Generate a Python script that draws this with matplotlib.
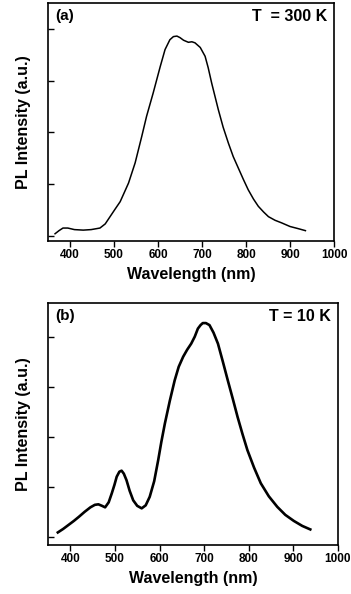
import matplotlib
matplotlib.use("Agg")
import matplotlib.pyplot as plt

plt.rcParams['font.family'] = ['Liberation Sans', 'DejaVu Sans']
plt.rcParams['font.weight'] = 'bold'

# panel (a), T = 300 K
wl_a = [366, 375, 384, 395, 410, 430, 448, 468, 480, 491, 502, 514, 523, 533, 548, 563,
        574, 589, 605, 616, 627, 635, 643, 650, 658, 669, 677, 684, 696, 707, 714, 722,
        737, 748, 760, 771, 783, 794, 805, 817, 828, 840, 851, 866, 881, 900, 918, 935]
int_a = [0.04, 0.10, 0.15, 0.15, 0.12, 0.11, 0.12, 0.15, 0.23, 0.37, 0.51, 0.66, 0.83, 1.02,
         1.41, 1.92, 2.31, 2.76, 3.27, 3.60, 3.79, 3.85, 3.86, 3.83, 3.78, 3.74, 3.75, 3.73,
         3.64, 3.47, 3.25, 2.95, 2.44, 2.10, 1.79, 1.53, 1.30, 1.09, 0.89, 0.71, 0.57, 0.46,
         0.37, 0.30, 0.25, 0.18, 0.14, 0.10]

# panel (b), T = 10 K
wl_b = [372, 384, 396, 408, 419, 432, 445, 455, 463, 471, 478, 486, 493, 499, 504, 510,
        515, 520, 526, 533, 541, 550, 560, 569, 578, 588, 597, 604, 612, 623, 634, 643,
        653, 662, 671, 679, 686, 692, 697, 704, 712, 721, 731, 742, 753, 764, 775, 786,
        797, 812, 827, 845, 864, 882, 901, 920, 938]
int_b = [0.10, 0.17, 0.25, 0.33, 0.41, 0.51, 0.60, 0.65, 0.66, 0.63, 0.60, 0.70, 0.88, 1.05,
         1.21, 1.31, 1.33, 1.27, 1.14, 0.93, 0.74, 0.63, 0.58, 0.64, 0.81, 1.12, 1.54, 1.90,
         2.27, 2.72, 3.13, 3.40, 3.60, 3.74, 3.86, 4.00, 4.16, 4.23, 4.27, 4.27, 4.23, 4.08,
         3.86, 3.50, 3.13, 2.77, 2.40, 2.06, 1.74, 1.39, 1.08, 0.82, 0.61, 0.45, 0.33, 0.23, 0.16]

xticks = [400, 500, 600, 700, 800, 900, 1000]
yticks = [0, 1, 2, 3, 4]

fig = plt.figure(figsize=(3.51, 5.94), dpi=100)
ax_a = fig.add_axes([0.1368, 0.5943, 0.8148, 0.4007])
ax_b = fig.add_axes([0.1368, 0.0825, 0.826, 0.4074])

panels = [
    (ax_a, wl_a, int_a, '(a)', 'T  = 300 K', (-0.1, 4.5), 1.1),
    (ax_b, wl_b, int_b, '(b)', 'T = 10 K', (-0.15, 4.67), 1.9),
]

for ax, x, y, tag, temp, ylim, lw in panels:
    ax.plot(x, y, color='black', lw=lw)
    ax.set_xlim(350, 1000)
    ax.set_ylim(*ylim)
    ax.set_xticks(xticks)
    ax.set_yticks(yticks)
    ax.set_yticklabels([])
    ax.tick_params(axis='x', direction='out', length=4, width=1, labelsize=8.5, pad=2)
    ax.tick_params(axis='y', direction='in', length=4, width=1)
    for s in ax.spines.values():
        s.set_linewidth(1.2)
    ax.set_xlabel('Wavelength (nm)', fontsize=11.5, fontweight='bold', labelpad=4)
    ax.set_ylabel('PL Intensity (a.u.)', fontsize=11.5, fontweight='bold', labelpad=9)
    ax.text(0.025, 0.975, tag, transform=ax.transAxes, fontsize=11,
            fontweight='bold', va='top', ha='left')
    ax.text(0.975, 0.975, temp, transform=ax.transAxes, fontsize=11.5,
            fontweight='bold', va='top', ha='right')

fig.savefig('out.png', dpi=100)
